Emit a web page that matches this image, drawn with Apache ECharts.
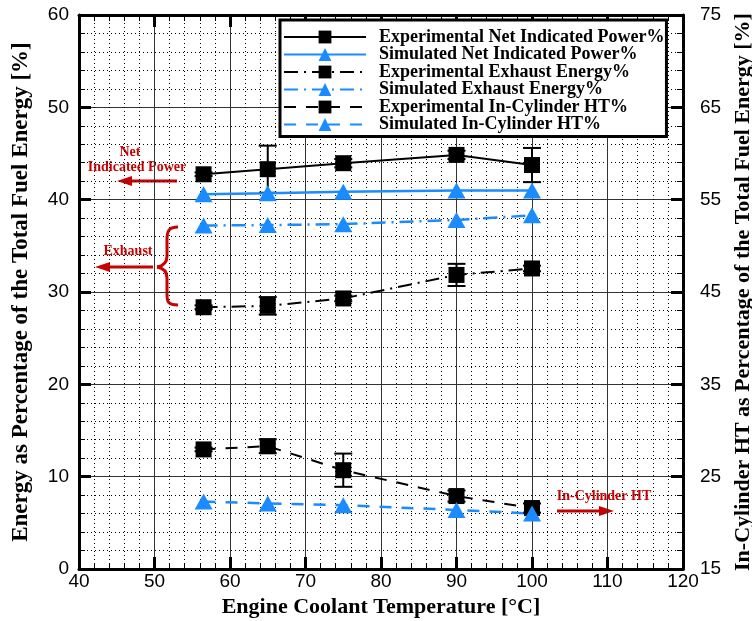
<!DOCTYPE html>
<html><head><meta charset="utf-8">
<script src="https://cdn.jsdelivr.net/npm/echarts@6/dist/echarts.min.js"></script>
<style>html,body{margin:0;padding:0;background:#fff}#c{width:752px;height:621px}</style>
</head><body><div id="c"></div>
<script>
// ---- data ----
const temps = [56.5, 65, 75, 90, 100];
const expNetPower    = [42.75, 43.3, 43.95, 44.85, 43.75];
const expNetPowerErr = [0.2, 2.55, 0.45, 0.45, 1.85];
const simNetPower    = [40.6, 40.7, 40.85, 41.0, 41.0];
const expExhaust     = [28.35, 28.5, 29.3, 31.85, 32.55];
const expExhaustErr  = [0.2, 0.95, 0.3, 1.2, 0.3];
const simExhaust     = [37.2, 37.25, 37.35, 37.8, 38.3];
const expInCylHT     = [27.95, 28.3, 25.7, 22.9, 21.6];   // right axis
const expInCylHTErr  = [0.2, 0.75, 1.8, 0.6, 0.5];
const simInCylHT     = [22.3, 22.1, 21.9, 21.4, 21.0];    // right axis
const xRange = [40, 120];
const leftRange = [0, 60];
const rightRange = [15, 75];
const names = ['Experimental Net Indicated Power%','Simulated Net Indicated Power%',
  'Experimental Exhaust Energy%','Simulated Exhaust Energy%',
  'Experimental In-Cylinder HT%','Simulated In-Cylinder HT%'];

const BLUE = '#1A8CFF', RED = '#CC0000';
const pairs = (xs, ys) => xs.map((x, i) => [x, ys[i]]);
const errs = (xs, ys, es) => xs.map((x, i) => [x, ys[i] - es[i], ys[i] + es[i]]);

function errRender(params, api) {
  const x = api.value(0), lo = api.value(1), hi = api.value(2);
  const a = api.coord([x, hi]), b = api.coord([x, lo]);
  const w = 9, st = {stroke: '#000', lineWidth: 2};
  return {type: 'group', children: [
    {type: 'line', shape: {x1: a[0], y1: a[1], x2: b[0], y2: b[1]}, style: st},
    {type: 'line', shape: {x1: a[0]-w, y1: a[1], x2: a[0]+w, y2: a[1]}, style: st},
    {type: 'line', shape: {x1: b[0]-w, y1: b[1], x2: b[0]+w, y2: b[1]}, style: st}
  ]};
}

const chart = echarts.init(document.getElementById('c'));
const tickFont = {fontFamily: 'Liberation Sans', fontSize: 19, color: '#000'};
const nameFont = {fontFamily: 'Liberation Serif', fontWeight: 'bold', fontSize: 22, color: '#000'};
const axisLine = {show: true, onZero: false, lineStyle: {color: '#000', width: 3}};
const majorTick = {show: true, inside: true, length: 12, lineStyle: {color: '#000', width: 3}};
const minorTick = {show: true, splitNumber: 5, length: 6, lineStyle: {color: '#000', width: 1}};
const splitLine = {show: true, lineStyle: {color: '#333', width: 1}};
const minorSplit = {show: true, lineStyle: {color: '#000', width: 1, type: [1, 3]}};
const braceStyle = {stroke: RED, lineWidth: 3, fill: null};
const annFont = 'bold 14px "Liberation Serif"';

chart.setOption({
  animation: false,
  backgroundColor: '#fff',
  grid: {left: 79, right: 69, top: 15, bottom: 52, containLabel: false, outerBoundsMode: 'none'},
  xAxis: [
    {type: 'value', min: xRange[0], max: xRange[1], interval: 10, position: 'bottom',
     name: 'Engine Coolant Temperature [°C]', nameLocation: 'middle', nameGap: 25, nameTextStyle: nameFont,
     axisLine, axisTick: majorTick, minorTick, splitLine, minorSplitLine: minorSplit,
     axisLabel: Object.assign({margin: 3}, tickFont)},
    {type: 'value', min: xRange[0], max: xRange[1], interval: 10, position: 'top',
     axisLine, axisTick: majorTick, minorTick, splitLine: {show: false}, axisLabel: {show: false}}
  ],
  yAxis: [
    {type: 'value', min: leftRange[0], max: leftRange[1], interval: 10, position: 'left',
     name: 'Energy as Percentage of the Total Fuel Energy [%]', nameLocation: 'middle', nameGap: 46,
     nameRotate: 90, nameTextStyle: Object.assign({}, nameFont, {fontSize: 23}),
     axisLine, axisTick: majorTick, minorTick, splitLine, minorSplitLine: minorSplit,
     axisLabel: Object.assign({margin: 10}, tickFont)},
    {type: 'value', min: rightRange[0], max: rightRange[1], interval: 10, position: 'right',
     name: 'In-Cylinder HT as Percentage of the Total Fuel Energy [%]', nameLocation: 'middle', nameGap: 46,
     nameRotate: 90, nameTextStyle: nameFont,
     axisLine, axisTick: majorTick, minorTick, splitLine: {show: false},
     axisLabel: Object.assign({margin: 17}, tickFont)}
  ],
  legend: {
    data: names, orient: 'vertical', left: 280, top: 20,
    backgroundColor: '#fff', borderColor: '#000', borderWidth: 3, borderRadius: 0,
    padding: [8, 2, 3, 3], itemWidth: 82, itemHeight: 16, itemGap: -0.5,
    textStyle: {fontFamily: 'Liberation Serif', fontWeight: 'bold', fontSize: 18, color: '#000', padding: [0, 0, 0, 8]}
  },
  series: [
    {name: names[0], type: 'line', data: pairs(temps, expNetPower), symbol: 'rect', symbolSize: 16,
     itemStyle: {color: '#000'}, lineStyle: {color: '#000', width: 2}, z: 5},
    {name: names[1], type: 'line', data: pairs(temps, simNetPower), symbol: 'triangle', symbolSize: [18, 16],
     itemStyle: {color: BLUE}, lineStyle: {color: BLUE, width: 2.5}, z: 5},
    {name: names[2], type: 'line', data: pairs(temps, expExhaust), symbol: 'rect', symbolSize: 16,
     itemStyle: {color: '#000'}, lineStyle: {color: '#000', width: 2, type: [14, 6, 2, 6]}, z: 5},
    {name: names[3], type: 'line', data: pairs(temps, simExhaust), symbol: 'triangle', symbolSize: [18, 16],
     itemStyle: {color: BLUE}, lineStyle: {color: BLUE, width: 2.5, type: [14, 6, 2, 6]}, z: 5},
    {name: names[4], type: 'line', yAxisIndex: 1, data: pairs(temps, expInCylHT), symbol: 'rect', symbolSize: 16,
     itemStyle: {color: '#000'}, lineStyle: {color: '#000', width: 2, type: [12, 10]}, z: 5},
    {name: names[5], type: 'line', yAxisIndex: 1, data: pairs(temps, simInCylHT), symbol: 'triangle', symbolSize: [18, 16],
     itemStyle: {color: BLUE}, lineStyle: {color: BLUE, width: 2.5, type: [12, 10]}, z: 5},
    {type: 'custom', renderItem: errRender, data: errs(temps, expNetPower, expNetPowerErr), encode: {x: 0, y: [1, 2]}, z: 4},
    {type: 'custom', renderItem: errRender, data: errs(temps, expExhaust, expExhaustErr), encode: {x: 0, y: [1, 2]}, z: 4},
    {type: 'custom', yAxisIndex: 1, renderItem: errRender, data: errs(temps, expInCylHT, expInCylHTErr), encode: {x: 0, y: [1, 2]}, z: 4}
  ],
  graphic: [
    {type: 'text', x: 130, y: 152, style: {text: 'Net', fill: RED, font: annFont, align: 'center', verticalAlign: 'middle'}},
    {type: 'text', x: 137, y: 167, style: {text: 'Indicated Power', fill: RED, font: annFont, align: 'center', verticalAlign: 'middle'}},
    {type: 'line', shape: {x1: 177, y1: 181, x2: 128, y2: 181}, style: {stroke: RED, lineWidth: 3}},
    {type: 'polygon', shape: {points: [[117, 181], [132, 176], [132, 186]]}, style: {fill: RED}},
    {type: 'text', x: 128, y: 251, style: {text: 'Exhaust', fill: RED, font: annFont, align: 'center', verticalAlign: 'middle'}},
    {type: 'line', shape: {x1: 153, y1: 267, x2: 106, y2: 267}, style: {stroke: RED, lineWidth: 3}},
    {type: 'polygon', shape: {points: [[95, 267], [110, 262], [110, 272]]}, style: {fill: RED}},
    {type: 'bezierCurve', shape: {x1: 178, y1: 227, cpx1: 168, cpy1: 227, cpx2: 167, cpy2: 232, x2: 167, y2: 240}, style: braceStyle},
    {type: 'line', shape: {x1: 167, y1: 240, x2: 167, y2: 256}, style: braceStyle},
    {type: 'bezierCurve', shape: {x1: 167, y1: 256, cpx1: 167, cpy1: 263, cpx2: 163, cpy2: 266, x2: 157, y2: 267}, style: braceStyle},
    {type: 'bezierCurve', shape: {x1: 157, y1: 267, cpx1: 163, cpy1: 268, cpx2: 167, cpy2: 271, x2: 167, y2: 278}, style: braceStyle},
    {type: 'line', shape: {x1: 167, y1: 278, x2: 167, y2: 294}, style: braceStyle},
    {type: 'bezierCurve', shape: {x1: 167, y1: 294, cpx1: 167, cpy1: 302, cpx2: 168, cpy2: 305, x2: 178, y2: 305}, style: braceStyle},
    {type: 'text', x: 604, y: 496, style: {text: 'In-Cylinder HT', fill: RED, font: annFont, align: 'center', verticalAlign: 'middle'}},
    {type: 'line', shape: {x1: 557, y1: 511, x2: 602, y2: 511}, style: {stroke: RED, lineWidth: 3}},
    {type: 'polygon', shape: {points: [[614, 511], [599, 506], [599, 516]]}, style: {fill: RED}}
  ]
});
</script></body></html>
